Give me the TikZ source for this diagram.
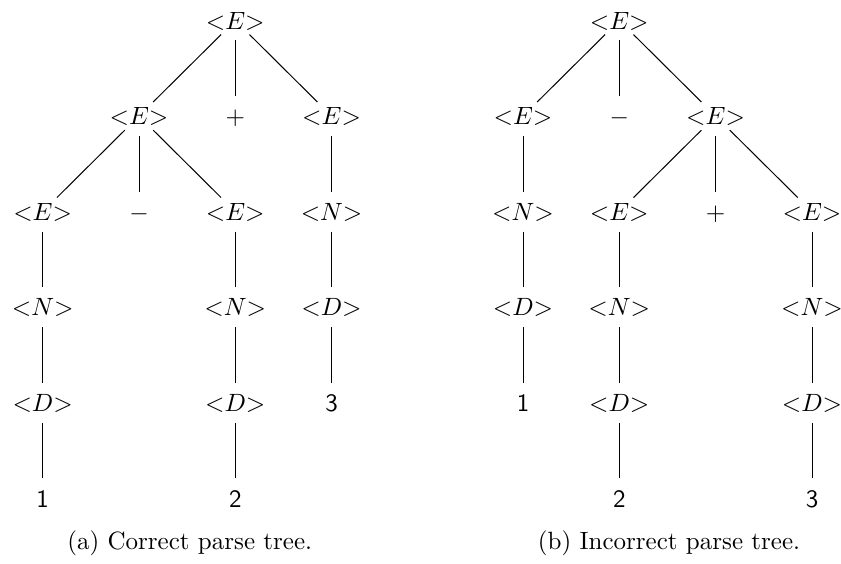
\documentclass[tikz,border=0pt]{standalone}
\begin{document}
\begin{tikzpicture}[x=0.4pt,y=-0.4pt,
  tn/.style={anchor=base,inner sep=0pt,text height=6.83pt,text depth=0pt},
  edge/.style={line width=0.4pt,shorten <=8pt,shorten >=8pt},
  captext/.style={anchor=base,inner sep=0pt}]
\path[fill=white] (0,0) rectangle (841,563);
\useasboundingbox (0,0) rectangle (841,563);
% ---------- left tree ----------
\node[tn] (r1) at (235.3,29) {${<}E{>}$};
\node[tn] (a) at (139,124.6) {${<}E{>}$};
\node[tn] (ap) at (235.3,124.6) {$+$};
\node[tn] (b) at (331.6,124.6) {${<}E{>}$};
\node[tn] (aa) at (42.7,220.2) {${<}E{>}$};
\node[tn] (am) at (139,220.2) {$-$};
\node[tn] (ab) at (235.3,220.2) {${<}E{>}$};
\node[tn] (bn) at (331.6,220.2) {${<}N{>}$};
\node[tn] (aaN) at (42.7,315.8) {${<}N{>}$};
\node[tn] (abN) at (235.3,315.8) {${<}N{>}$};
\node[tn] (bnD) at (331.6,315.8) {${<}D{>}$};
\node[tn] (aaD) at (42.7,411.4) {${<}D{>}$};
\node[tn] (abD) at (235.3,411.4) {${<}D{>}$};
\node[tn] (b3) at (331.6,411.4) {\textsf{3}};
\node[tn] (a1) at (42.7,507) {\textsf{1}};
\node[tn] (a2) at (235.3,507) {\textsf{2}};
\foreach \p/\c in {r1/a,r1/ap,r1/b,a/aa,a/am,a/ab,b/bn,aa/aaN,ab/abN,bn/bnD,aaN/aaD,abN/abD,bnD/b3,aaD/a1,abD/a2}
  \draw[edge] (\p.center) -- (\c.center);
\node[captext] (capa) at (189.7,549) {(a) Correct parse tree.};
% ---------- right tree ----------
\node[tn] (R1) at (619.3,29) {${<}E{>}$};
\node[tn] (c) at (523,124.6) {${<}E{>}$};
\node[tn] (cm) at (619.3,124.6) {$-$};
\node[tn] (d) at (715.6,124.6) {${<}E{>}$};
\node[tn] (cN) at (523,220.2) {${<}N{>}$};
\node[tn] (de) at (619.3,220.2) {${<}E{>}$};
\node[tn] (dp) at (715.6,220.2) {$+$};
\node[tn] (df) at (812,220.2) {${<}E{>}$};
\node[tn] (cD) at (523,315.8) {${<}D{>}$};
\node[tn] (deN) at (619.3,315.8) {${<}N{>}$};
\node[tn] (dfN) at (812,315.8) {${<}N{>}$};
\node[tn] (c1) at (523,411.4) {\textsf{1}};
\node[tn] (deD) at (619.3,411.4) {${<}D{>}$};
\node[tn] (dfD) at (812,411.4) {${<}D{>}$};
\node[tn] (d2) at (619.3,507) {\textsf{2}};
\node[tn] (d3) at (812,507) {\textsf{3}};
\foreach \p/\c in {R1/c,R1/cm,R1/d,c/cN,d/de,d/dp,d/df,cN/cD,de/deN,df/dfN,cD/c1,deN/deD,dfN/dfD,deD/d2,dfD/d3}
  \draw[edge] (\p.center) -- (\c.center);
\node[captext] (capb) at (669,549) {(b) Incorrect parse tree.};
\end{tikzpicture}
\end{document}
